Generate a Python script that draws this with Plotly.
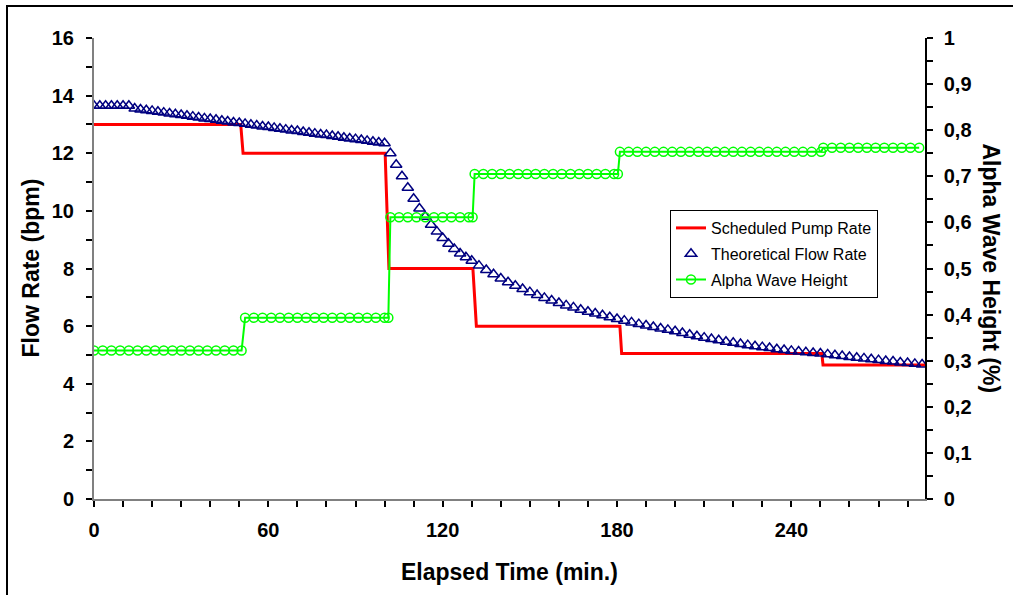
import plotly.graph_objects as go

# ---------------- data ----------------
pump_time = [0, 50.5, 51.3, 100.2, 101.5, 130.4, 131.6, 181.0, 181.6, 250.5, 250.9, 286]
pump_rate = [13, 13, 12, 12, 8, 8, 6, 6, 5.05, 5.05, 4.65, 4.65]

flow_time = [0, 2, 4, 6, 8, 10, 12, 14, 16, 18, 20, 22, 24, 26, 28, 30, 32, 34, 36, 38,
             40, 42, 44, 46, 48, 50, 52, 54, 56, 58, 60, 62, 64, 66, 68, 70, 72, 74, 76, 78,
             80, 82, 84, 86, 88, 90, 92, 94, 96, 98, 100, 102, 104, 106, 108, 110, 112, 114,
             116, 118, 120, 122, 124, 126, 128, 130,
             132.5, 135, 137.5, 140, 142.5, 145, 147.5, 150, 152.5, 155, 157.5, 160, 162.5,
             165, 167.5, 170, 172.5, 175, 177.5, 180, 182.5, 185, 187.5, 190, 192.5, 195,
             197.5, 200, 202.5, 205, 207.5, 210, 212.5, 215, 217.5, 220, 222.5, 225, 227.5,
             230, 232.5, 235, 237.5, 240, 242.5, 245, 247.5, 250, 252.5, 255, 257.5, 260,
             262.5, 265, 267.5, 270, 272.5, 275, 277.5, 280, 282.5, 285]
flow_rate = [13.65, 13.65, 13.65, 13.65, 13.65, 13.65, 13.65,
             13.55, 13.52, 13.49, 13.47, 13.44, 13.41, 13.38, 13.35, 13.33, 13.30, 13.27,
             13.24, 13.21, 13.19, 13.16, 13.13, 13.10, 13.07, 13.05, 13.02, 12.99, 12.96,
             12.93, 12.91, 12.88, 12.85, 12.82, 12.79, 12.77, 12.74, 12.71, 12.68, 12.65,
             12.63, 12.60, 12.57, 12.54, 12.51, 12.49, 12.46, 12.43, 12.40, 12.37, 12.35,
             12.0, 11.6, 11.2, 10.8, 10.42, 10.08, 9.8, 9.52, 9.28, 9.06, 8.86, 8.68, 8.52,
             8.39, 8.27,
             8.10, 7.95, 7.80, 7.65, 7.52, 7.40, 7.29, 7.18, 7.08, 6.98, 6.89, 6.80, 6.72,
             6.65, 6.57, 6.50, 6.44, 6.38, 6.31, 6.25, 6.19, 6.13, 6.07, 6.02, 5.97, 5.92,
             5.87, 5.82, 5.76, 5.70, 5.65, 5.60, 5.55, 5.51, 5.46, 5.42, 5.38, 5.34, 5.30,
             5.27, 5.24, 5.20, 5.17, 5.14, 5.12, 5.09, 5.07, 5.05, 5.02, 4.99, 4.96, 4.93,
             4.90, 4.88, 4.85, 4.82, 4.79, 4.77, 4.74, 4.72, 4.69, 4.67]

alpha_time = [0, 3, 6, 9, 12, 15, 18, 21, 24, 27, 30, 33, 36, 39, 42, 45, 48, 50.8,
              52, 55, 58, 61, 64, 67, 70, 73, 76, 79, 82, 85, 88, 91, 94, 97, 100, 101.3,
              102, 105, 108, 111, 114, 117, 120, 123, 126, 129, 130.3,
              131, 134, 137, 140, 143, 146, 149, 152, 155, 158, 161, 164, 167, 170, 173,
              176, 179, 180.3,
              181, 184, 187, 190, 193, 196, 199, 202, 205, 208, 211, 214, 217, 220, 223,
              226, 229, 232, 235, 238, 241, 244, 247, 250.2,
              251, 254, 257, 260, 263, 266, 269, 272, 275, 278, 281, 284]
alpha_height = ([0.322] * 18 + [0.393] * 18 + [0.611] * 11 +
                [0.705] * 18 + [0.753] * 24 + [0.762] * 12)

x_ticks = [0, 60, 120, 180, 240]

FONT = "Liberation Sans, Arial, sans-serif"

# ---------------- figure ----------------
fig = go.Figure()

fig.add_trace(go.Scatter(
    x=pump_time, y=pump_rate, mode="lines", name="Scheduled Pump Rate",
    line=dict(color="#FF0000", width=3), legendgroup="a"))

fig.add_trace(go.Scatter(
    x=flow_time, y=flow_rate, mode="markers", name="Theoretical Flow Rate",
    marker=dict(symbol="triangle-up-open", size=10, color="#000080",
                line=dict(color="#000080", width=1.5)), legendgroup="b"))

fig.add_trace(go.Scatter(
    x=alpha_time, y=alpha_height, mode="lines+markers", name="Alpha Wave Height",
    yaxis="y2", line=dict(color="#00FF00", width=2),
    marker=dict(symbol="circle-open", size=9, color="#00FF00",
                line=dict(color="#00FF00", width=1.5)), legendgroup="c"))

L, R, T, B = 94, 88, 38, 96
W, H = 1013, 595
pw, ph = W - L - R, H - T - B


def px_x(p):
    return (p - L) / pw


def px_y(p):
    return (H - B - p) / ph


tickfont = dict(family=FONT, size=20, color="black", weight="bold")

fig.update_layout(
    width=W, height=H,
    margin=dict(l=L, r=R, t=T, b=B, pad=0),
    paper_bgcolor="white", plot_bgcolor="white",
    separators=",.",
    showlegend=True,
    legend=dict(x=px_x(670), y=px_y(210), xanchor="left", yanchor="top",
                bgcolor="white", bordercolor="black", borderwidth=1,
                font=dict(family=FONT, size=16, color="black"),
                tracegroupgap=2, itemwidth=30),
    xaxis=dict(range=[0, 286], tickmode="array", tickvals=x_ticks,
               ticks="outside", ticklen=6, tickwidth=1.5, tickcolor="black",
               minor=dict(tickmode="linear", tick0=0, dtick=10, ticks="outside",
                          ticklen=6, tickwidth=1.5, tickcolor="black"),
               showline=True, linecolor="#808080", linewidth=2,
               showgrid=False, zeroline=False,
               tickfont=tickfont, ticklabelstandoff=6),
    yaxis=dict(range=[0, 16], tickmode="linear", tick0=0, dtick=2,
               ticks="outside", ticklen=6, tickwidth=1.5, tickcolor="black",
               minor=dict(tickmode="linear", tick0=0, dtick=1, ticks="outside",
                          ticklen=6, tickwidth=1.5, tickcolor="black"),
               showline=True, linecolor="#808080", linewidth=2,
               showgrid=False, zeroline=False,
               tickfont=tickfont, ticklabelstandoff=8),
    yaxis2=dict(range=[0, 1], overlaying="y", side="right", anchor="x",
                tickmode="linear", tick0=0, dtick=0.1,
                ticks="outside", ticklen=6, tickwidth=1.5, tickcolor="black",
                minor=dict(tickmode="linear", tick0=0, dtick=0.05, ticks="outside",
                           ticklen=6, tickwidth=1.5, tickcolor="black"),
                showline=True, linecolor="black", linewidth=1.5,
                showgrid=False, zeroline=False,
                tickfont=tickfont, ticklabelstandoff=7),
)

title_font = dict(family=FONT, size=23, color="black")
fig.add_annotation(text="<b>Elapsed Time (min.)</b>", xref="paper", yref="paper",
                   x=0.5, y=px_y(572), xanchor="center", yanchor="middle",
                   showarrow=False, font=title_font)
fig.add_annotation(text="<b>Flow Rate (bpm)</b>", xref="paper", yref="paper",
                   x=px_x(30), y=0.5, xanchor="center", yanchor="middle",
                   textangle=-90, showarrow=False, font=title_font)
fig.add_annotation(text="<b>Alpha Wave Height (%)</b>", xref="paper", yref="paper",
                   x=px_x(991), y=0.5, xanchor="center", yanchor="middle",
                   textangle=90, showarrow=False, font=title_font)

# outer chart frame
fig.add_shape(type="rect", xref="paper", yref="paper",
              x0=px_x(7), y0=px_y(605), x1=px_x(1025), y1=px_y(6),
              line=dict(color="black", width=2), fillcolor="rgba(0,0,0,0)", layer="below")

fig.write_html("out.html")
